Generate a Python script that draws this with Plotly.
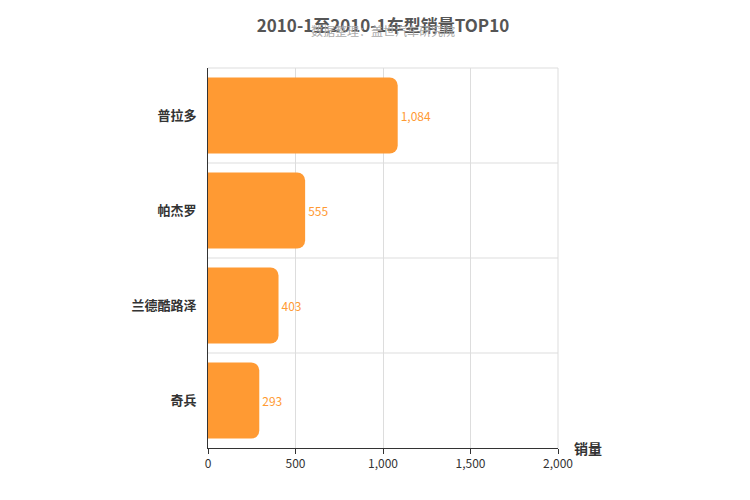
import plotly.graph_objects as go

models = ["普拉多", "帕杰罗", "兰德酷路泽", "奇兵"]
sales = [1084, 555, 403, 293]
x_ticks = [0, 500, 1000, 1500, 2000]
x_tick_labels = ["0", "500", "1,000", "1,500", "2,000"]

bar_color = "#ff9a33"
font = "Noto Sans CJK SC"

fig = go.Figure(go.Bar(
    y=models, x=sales, orientation="h",
    marker=dict(color=bar_color, cornerradius=8, line=dict(width=0)),
    width=0.8,
    text=[f"{v:,}" for v in sales], textposition="outside",
    textfont=dict(color=bar_color, size=12), cliponaxis=False,
))

# separators between categories
n = len(models)
shapes = []
for i in range(n - 1):
    shapes.append(dict(type="line", xref="paper", x0=0, x1=1, yref="y",
                       y0=i + 0.5, y1=i + 0.5, line=dict(color="#dddddd", width=1), layer="below"))
shapes.append(dict(type="line", xref="paper", x0=0, x1=1, yref="paper",
                   y0=1, y1=1, line=dict(color="#dddddd", width=1), layer="below"))
shapes.append(dict(type="line", xref="paper", x0=1, x1=1, yref="paper",
                   y0=0, y1=1, line=dict(color="#dddddd", width=1), layer="below"))

fig.update_layout(
    width=750, height=500,
    margin=dict(l=200, r=200, t=60, b=60),
    plot_bgcolor="white", paper_bgcolor="white",
    font=dict(family=font, color="#333333", size=12),
    showlegend=False,
    shapes=shapes,
    title=dict(text="<b>2010-1至2010-1车型销量TOP10</b>", x=0.5, xanchor="center",
               y=0.975, yanchor="top", font=dict(size=17, color="#555555")),
    annotations=[
        dict(text="数据整理：盖世汽车研究院", xref="paper", yref="paper", x=0.5, y=1.07,
             xanchor="center", yanchor="bottom", showarrow=False,
             font=dict(size=12, color="#aaaaaa")),
        dict(text="<b>销量</b>", xref="paper", yref="paper", x=1.04, y=0,
             xanchor="left", yanchor="middle", showarrow=False,
             font=dict(size=14, color="#333333")),
    ],
    xaxis=dict(range=[0, 2000], tickvals=x_ticks, ticktext=x_tick_labels,
               showgrid=True, gridcolor="#dddddd", zeroline=False,
               showline=True, linecolor="#333333", ticks="outside", ticklen=5,
               tickcolor="#333333", tickfont=dict(size=12, color="#333333")),
    yaxis=dict(autorange="reversed", showgrid=False, zeroline=False,
               showline=True, linecolor="#333333", ticks="", ticklabelstandoff=8,
               tickfont=dict(size=13, color="#333333", weight="bold")),
    bargap=0.2,
)

fig.write_html("out.html")
